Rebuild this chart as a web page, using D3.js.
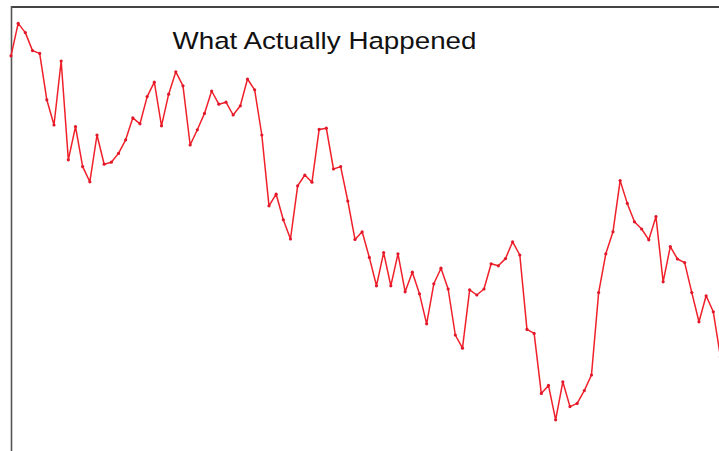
<!DOCTYPE html>
<html>
<head>
<meta charset="utf-8">
<script src="https://cdn.jsdelivr.net/npm/d3@7"></script>
<style>
  html, body { margin: 0; padding: 0; background: #fff; }
  svg { display: block; }
</style>
</head>
<body>
<svg id="chart" width="719" height="451"></svg>
<script>
// Chart data
const title = "What Actually Happened";
const values = [
  98.8, 106.9, 104.6, 100.1, 99.4, 87.8, 81.5, 97.5, 72.8, 81.1,
  71.1, 67.3, 79.0, 71.7, 72.2, 74.4, 77.8, 83.3, 81.8, 88.6,
  92.2, 81.3, 89.2, 94.8, 91.3, 76.5, 80.3, 84.4, 90.0, 86.7,
  87.2, 84.0, 86.3, 93.0, 90.3, 79.0, 61.3, 64.2, 57.8, 53.0,
  66.3, 69.0, 67.2, 80.4, 80.7, 70.5, 71.1, 62.5, 52.9, 54.8,
  48.4, 41.3, 49.6, 41.3, 49.3, 39.8, 44.7, 39.3, 31.8, 41.8,
  45.7, 40.5, 29.0, 25.7, 40.3, 39.0, 40.5, 46.8, 46.3, 48.1,
  52.3, 49.0, 30.4, 29.4, 14.4, 16.4, 7.8, 17.3, 11.1, 11.9,
  15.1, 19.0, 39.6, 49.3, 54.8, 67.6, 61.9, 57.3, 55.5, 52.8,
  58.6, 42.3, 51.1, 48.0, 47.1, 39.6, 32.3, 38.8, 34.8, 23.5
];

const svg = d3.select("#chart");
const W = 719, H = 451;

const x = d3.scaleLinear().domain([0, 98]).range([11, 713.3]);
const y = d3.scaleLinear().domain([0, 112.75]).range([451, 0]);

// frame (plot box, cropped on right/bottom)
svg.append("line")
  .attr("x1", 11.5).attr("x2", W + 5)
  .attr("y1", 7).attr("y2", 7)
  .attr("stroke", "#444").attr("stroke-width", 2);
svg.append("line")
  .attr("x1", 11.5).attr("x2", 11.5)
  .attr("y1", 6).attr("y2", H + 5)
  .attr("stroke", "#555").attr("stroke-width", 1.6);

// title
svg.append("text")
  .attr("x", 172.5).attr("y", 48.5)
  .attr("font-family", "Liberation Sans, Arial, Helvetica, sans-serif")
  .attr("font-size", 24.5)
  .attr("fill", "#111")
  .attr("textLength", 304)
  .attr("lengthAdjust", "spacingAndGlyphs")
  .text(title);

// line
const line = d3.line()
  .x((d, i) => x(i))
  .y(d => y(d));

svg.append("path")
  .datum(values)
  .attr("fill", "none")
  .attr("stroke", "#f0202a")
  .attr("stroke-width", 1.5)
  .attr("stroke-linejoin", "round")
  .attr("d", line);

svg.append("g")
  .selectAll("circle")
  .data(values)
  .join("circle")
  .attr("cx", (d, i) => x(i))
  .attr("cy", d => y(d))
  .attr("r", 1.6)
  .attr("fill", "#e0182a");
</script>
</body>
</html>
